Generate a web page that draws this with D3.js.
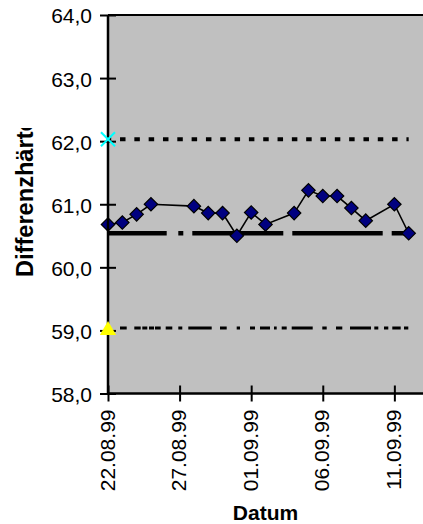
<!DOCTYPE html>
<html>
<head>
<meta charset="utf-8">
<script src="https://cdn.jsdelivr.net/npm/d3@7"></script>
<style>
  html, body { margin: 0; padding: 0; background: #fff; }
  svg { display: block; }
  text { font-family: "Liberation Sans", Arial, sans-serif; fill: #000; }
</style>
</head>
<body>
<svg id="chart" width="423" height="524"></svg>
<script>
// Messdaten: Datum und Differenzhärte
const dates = ["22.08.99","23.08.99","24.08.99","25.08.99","28.08.99","29.08.99","30.08.99",
               "31.08.99","01.09.99","02.09.99","04.09.99","05.09.99","06.09.99","07.09.99",
               "08.09.99","09.09.99","11.09.99","12.09.99"];
const values = [60.68, 60.71, 60.84, 61.00, 60.97, 60.86, 60.86,
                60.50, 60.87, 60.68, 60.86, 61.22, 61.13, 61.13,
                60.94, 60.74, 61.00, 60.54];

// Grenzlinien
const upperLimit = 62.03;
const centreLine = 60.54;
const lowerLimit = 59.04;
const upperMarker = 62.03;
const lowerMarker = 59.0;

// Achsen
const yTicks = [58, 59, 60, 61, 62, 63, 64];
const xTickLabels = ["22.08.99", "27.08.99", "01.09.99", "06.09.99", "11.09.99"];
const xDomain = ["22.08.99", "13.09.99"];

const parse = d3.timeParse("%d.%m.%y");
const fmtDate = d3.timeFormat("%d.%m.%y");
const fmtNum = d => d3.format(".1f")(d).replace(".", ",");

const svg = d3.select("#chart");
const plotL = 108, plotR = 423, plotT = 15, plotB = 393.5;

const x = d3.scaleTime().domain(xDomain.map(parse)).range([plotL, plotR]);
const y = d3.scaleLinear().domain([58, 64]).range([plotB, plotT]);

// Plotfläche
svg.append("rect")
  .attr("x", plotL).attr("y", plotT)
  .attr("width", plotR - plotL + 2).attr("height", plotB - plotT)
  .attr("fill", "#c0c0c0");

svg.append("line")
  .attr("x1", plotL).attr("x2", plotR + 2)
  .attr("y1", plotT).attr("y2", plotT)
  .attr("stroke", "#000").attr("stroke-width", 2);

// Grenzlinien
const first = parse(dates[0]), last = parse(dates[dates.length - 1]);
function hLine(v, width, dash, offset) {
  svg.append("line")
    .attr("x1", x(first)).attr("x2", x(last))
    .attr("y1", y(v)).attr("y2", y(v))
    .attr("stroke", "#000")
    .attr("stroke-width", width)
    .attr("stroke-dasharray", dash)
    .attr("stroke-dashoffset", offset || 0);
}
hLine(upperLimit, 4, "5.5,8.82", 2.3);
hLine(centreLine, 4.5, "58.7,11.6,5,9,91,9,90.4,9,30", 0);
hLine(lowerLimit, 3,
  "0,12,6.7,7.6,6.4,1.6,5,1.7,5,1,5.7,5,6.6,6,4,6,23.4,8.3,6.7,10,3.3,10,5,5,10,4,2.7,5,5,5,21,9.6,4.4,9.3,6.3,7.7,21,3.3,4,5.7,4.3,4,8.4,3.3,4.3,10", 0);

// Messreihe
const pts = dates.map((d, i) => ({ date: parse(d), value: values[i] }));
svg.append("path")
  .datum(pts)
  .attr("fill", "none")
  .attr("stroke", "#000")
  .attr("stroke-width", 1.6)
  .attr("d", d3.line().x(d => x(d.date)).y(d => y(d.value)));

svg.selectAll(".pt")
  .data(pts)
  .join("path")
  .attr("class", "pt")
  .attr("transform", d => `translate(${x(d.date)},${y(d.value)}) rotate(45)`)
  .attr("d", d3.symbol().type(d3.symbolSquare).size(90)())
  .attr("fill", "#000080")
  .attr("stroke", "#000")
  .attr("stroke-width", 1.2);

// Y-Achse
const yAxis = svg.append("g")
  .attr("transform", `translate(${plotL},0)`)
  .call(d3.axisLeft(y).tickValues(yTicks).tickFormat(fmtNum).tickSize(8).tickPadding(16));
yAxis.select(".domain").attr("stroke", "#000").attr("stroke-width", 2.5)
  .attr("d", `M0,${plotT}V${plotB}`);
yAxis.selectAll(".tick line").attr("x1", 8).attr("x2", -8).attr("stroke-width", 2);
yAxis.selectAll(".tick text")
  .attr("x", -16).attr("dy", "0.38em")
  .style("font-size", "21px").style("font-family", "'Liberation Sans', Arial, sans-serif");

// X-Achse
const xAxis = svg.append("g")
  .attr("transform", `translate(0,${plotB})`)
  .call(d3.axisBottom(x).tickValues(xTickLabels.map(parse)).tickFormat(fmtDate).tickSize(8));
xAxis.select(".domain").attr("stroke", "#000").attr("stroke-width", 2.5)
  .attr("d", `M${plotL},0H${plotR + 2}`);
xAxis.selectAll(".tick line").attr("y1", -8).attr("y2", 8).attr("stroke-width", 2);
xAxis.selectAll(".tick text")
  .attr("transform", "translate(6,16) rotate(-90)")
  .attr("x", 0).attr("y", 0).attr("dy", 0)
  .attr("text-anchor", "end")
  .style("font-size", "21px").style("font-family", "'Liberation Sans', Arial, sans-serif");

// Markierungen an den Grenzen
svg.append("path")
  .attr("transform", `translate(${x(first)},${y(upperMarker)})`)
  .attr("d", d3.symbol().type(d3.symbolX).size(130)())
  .attr("fill", "none").attr("stroke", "#00ffff").attr("stroke-width", 2);
svg.append("path")
  .attr("transform", `translate(${x(first)},${y(lowerMarker)})`)
  .attr("d", d3.symbol().type(d3.symbolTriangle).size(115)())
  .attr("fill", "#ffff00");

// Achsentitel (oben vom Diagrammrand abgeschnitten)
svg.append("defs").append("clipPath").attr("id", "titleClip")
  .append("rect").attr("x", 0).attr("y", 128).attr("width", 60).attr("height", 300);
svg.append("g")
  .attr("clip-path", "url(#titleClip)")
  .append("text")
  .attr("transform", "translate(33,277) rotate(-90)")
  .attr("text-anchor", "start")
  .style("font-size", "23.6px").style("font-weight", "bold")
  .text("Differenzhärte");

svg.append("text")
  .attr("x", (plotL + plotR) / 2).attr("y", 520)
  .attr("text-anchor", "middle")
  .style("font-size", "21px").style("font-weight", "bold")
  .text("Datum");
</script>
</body>
</html>
